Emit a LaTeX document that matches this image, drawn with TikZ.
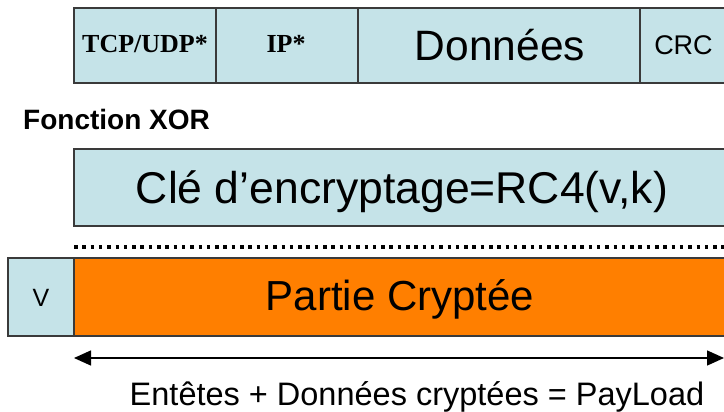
\documentclass[tikz,border=0pt]{standalone}
\usepackage{fontspec}
\setmainfont{Liberation Sans}
\newfontfamily\timesf{Liberation Serif}
\usetikzlibrary{arrows.meta}
\definecolor{lblue}{HTML}{C5E3E8}
\definecolor{orng}{HTML}{FF7F00}
\definecolor{bord}{HTML}{3A3A3A}
\begin{document}
\begin{tikzpicture}[x=1pt,y=-1pt,
  cell/.style={draw=bord, line width=1.2pt, fill=lblue, inner sep=0pt, outer sep=0pt,
    anchor=north west, minimum height=75pt},
  ocell/.style={cell, fill=orng, minimum height=78pt},
  lbl/.style={anchor=base, inner sep=0pt, text=black},
  fs/.style={font=\fontsize{#1}{#1}\selectfont},
  >={Triangle[length=17pt,width=15pt]}]
\useasboundingbox (0,0) rectangle (724,412);
\clip (0,0) rectangle (724,412);
% top row
\node[cell, minimum width=142pt] (tcp) at (74,8) {};
\node[cell, minimum width=142pt] (ip) at (216,8) {};
\node[cell, minimum width=282pt] (don) at (358,8) {};
\node[cell, minimum width=90pt] (crc) at (640,8) {};
\node[lbl, font=\timesf\bfseries\fontsize{26}{26}\selectfont] (ttcp) at (145,52.5) {TCP/UDP*};
\node[lbl, font=\timesf\bfseries\fontsize{26}{26}\selectfont] (tipl) at (286,52.5) {IP*};
\node[lbl, fs=42.5] (tdon) at (500,60.5) {Données};
\node[lbl, fs=27] (tcrc) at (683.5,55) {CRC};
% XOR label
\node[lbl, anchor=base west, font=\bfseries\fontsize{28}{28}\selectfont] (xor) at (23,129) {Fonction XOR};
% key box
\node[cell, minimum width=656pt, minimum height=77pt] (cle) at (74,149) {};
\node[lbl, fs=44.5] (tcle) at (402,204) {Clé d’encryptage=RC4(v,k)};
% dotted separator
\coordinate (dl) at (74,247);
\coordinate (dr) at (726,247);
\draw[line width=3.5pt, dash pattern=on 3.5pt off 4.8pt, black] (dl) -- (dr);
% bottom row
\node[cell, minimum width=66pt, minimum height=78pt] (v) at (8,258) {};
\node[ocell, minimum width=656pt] (part) at (74,258) {};
\node[lbl, fs=25] (tv) at (41,306) {V};
\node[lbl, fs=42] (tpart) at (400,310) {Partie Cryptée};
% payload arrow
\coordinate (al) at (74,358);
\coordinate (ar) at (724,358);
\draw[line width=1.5pt, <->] (al) -- (ar);
\node[lbl, fs=32.5] (tpay) at (417,405) {Entêtes + Données cryptées = PayLoad};
\end{tikzpicture}
\end{document}
